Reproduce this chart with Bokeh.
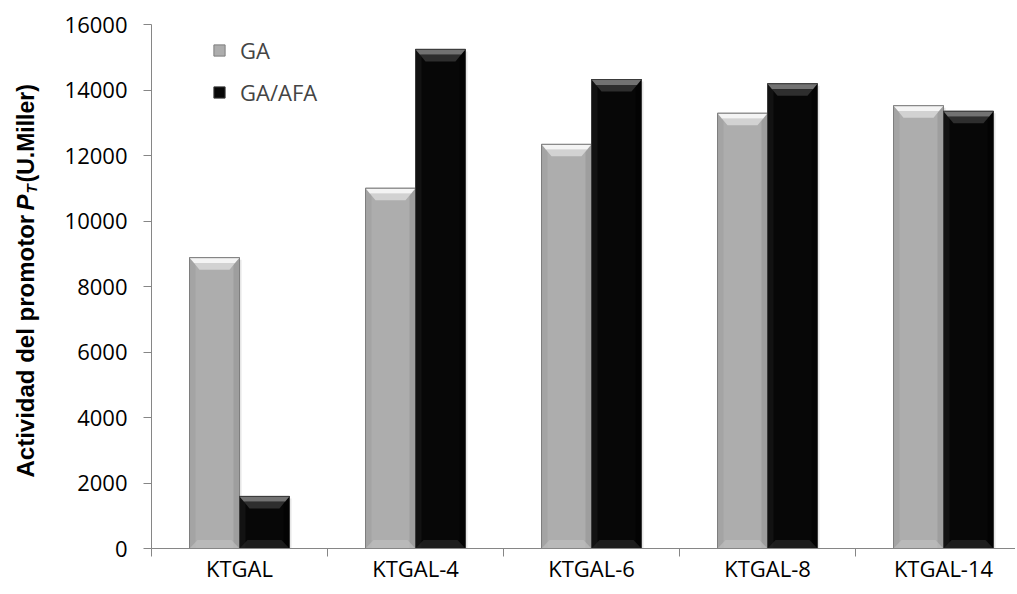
import numpy as np
from bokeh.plotting import figure
from bokeh.layouts import row
from bokeh.models import Range1d, FixedTicker, SingleIntervalTicker, Legend, LegendItem
from bokeh.core.properties import value
from bokeh.embed import file_html
from bokeh.resources import INLINE

# ---- data ----
categories = ["KTGAL", "KTGAL-4", "KTGAL-6", "KTGAL-8", "KTGAL-14"]
ga = [8880, 11000, 12340, 13290, 13520]
ga_afa = [1590, 15240, 14320, 14190, 13350]
series_names = ["GA", "GA/AFA"]
y_interval = 2000
y_max = 16000

# ---- layout constants ----
H = 592
LW = 50                      # width of the strip holding the y-axis title
W = 965
BL, BT, BB, BR = 101, 24, 44, 0
frame_w = W - BL - BR
frame_h = H - BT - BB
cat_px = 176.0
x_end = frame_w / cat_px

y_range = Range1d(0, y_max)
p = figure(width=W, height=H, output_backend="svg", toolbar_location=None, title=None,
           x_range=Range1d(0, x_end), y_range=y_range,
           min_border_left=BL, min_border_top=BT, min_border_bottom=BB, min_border_right=BR)
p.outline_line_color = None
p.xgrid.visible = False
p.ygrid.visible = False
p.background_fill_color = "white"
p.border_fill_color = "white"

ux = 1.0 / cat_px            # data units per px (x)
uy = y_max / frame_h         # data units per px (y)

bar_w = 0.284
offsets = [-0.142, 0.142]
styles = [
    dict(fill="#adadad", line="#7e7e7e", top1="#f4f4f4", top2="#d2d2d2", side_l="#9c9c9c", side_r="#8f8f8f", bot="#bdbdbd"),
    dict(fill="#070707", line="#3a3a3a", top1="#727272", top2="#2e2e2e", side_l="#1e1e1e", side_r="#000000", bot="#262626"),
]

renderers = []
for s_idx, vals in enumerate([ga, ga_afa]):
    st = styles[s_idx]
    xs = np.arange(len(categories)) + 0.5 + offsets[s_idx]
    vals = np.array(vals, dtype=float)
    # soft shadow
    p.vbar(x=xs + 2 * ux, top=vals - 2 * uy, bottom=0, width=bar_w, fill_color="#e6e6e6", line_color=None)
    r = p.vbar(x=xs, top=vals, bottom=0, width=bar_w, fill_color=st["fill"], line_color=st["line"], line_width=1)
    renderers.append(r)
    d = 10 * ux
    h = 12 * uy
    # side shading
    p.vbar(x=xs - bar_w / 2 + d * 0.3, top=vals, bottom=0, width=d * 0.6, fill_color=st["side_l"], line_color=None, fill_alpha=0.5)
    p.vbar(x=xs + bar_w / 2 - d * 0.3, top=vals, bottom=0, width=d * 0.6, fill_color=st["side_r"], line_color=None, fill_alpha=0.5)
    # top bevel (two bands) and bottom bevel
    xs_t1, ys_t1, xs_t2, ys_t2, xs_b, ys_b = [], [], [], [], [], []
    for x, v in zip(xs, vals):
        x0, x1 = x - bar_w / 2, x + bar_w / 2
        xs_t1.append([x0, x1, x1 - d * 0.45, x0 + d * 0.45])
        ys_t1.append([v, v, v - h * 0.45, v - h * 0.45])
        xs_t2.append([x0 + d * 0.45, x1 - d * 0.45, x1 - d, x0 + d])
        ys_t2.append([v - h * 0.45, v - h * 0.45, v - h, v - h])
        xs_b.append([x0 + d * 0.8, x1 - d * 0.8, x1, x0])
        ys_b.append([h * 0.7, h * 0.7, 0, 0])
    p.patches(xs_t1, ys_t1, fill_color=st["top1"], line_color=None)
    p.patches(xs_t2, ys_t2, fill_color=st["top2"], line_color=None)
    p.patches(xs_b, ys_b, fill_color=st["bot"], line_color=None, fill_alpha=0.7)
    p.vbar(x=xs, top=vals, bottom=0, width=bar_w, fill_color=None, line_color=st["line"], line_width=1)

# ---- axes ----
axis_color = "#868686"
font = "Open Sans"

p.yaxis.ticker = SingleIntervalTicker(interval=y_interval, num_minor_ticks=0)
p.yaxis.axis_line_color = axis_color
p.yaxis.major_tick_line_color = axis_color
p.yaxis.major_tick_out = 8
p.yaxis.major_tick_in = 0
p.yaxis.minor_tick_line_color = None
p.yaxis.major_label_text_font = font
p.yaxis.major_label_text_font_size = "22px"
p.yaxis.major_label_text_color = "black"
p.yaxis.major_label_standoff = 16

centers = [i + 0.5 for i in range(len(categories))]
p.xaxis.ticker = FixedTicker(ticks=centers, minor_ticks=list(range(len(categories) + 1)))
p.xaxis.major_label_overrides = {c: lab for c, lab in zip(centers, categories)}
p.xaxis.axis_line_color = axis_color
p.xaxis.major_tick_line_color = None
p.xaxis.major_tick_out = 0
p.xaxis.major_tick_in = 0
p.xaxis.minor_tick_line_color = axis_color
p.xaxis.minor_tick_out = 8
p.xaxis.minor_tick_in = 0
p.xaxis.major_label_text_font = font
p.xaxis.major_label_text_font_size = "22px"
p.xaxis.major_label_text_color = "black"
p.xaxis.major_label_standoff = -4

# ---- legend ----
legend = Legend(items=[LegendItem(label=n, renderers=[r]) for n, r in zip(series_names, renderers)],
                location=(61, frame_h - 83), orientation="vertical",
                glyph_width=14, glyph_height=14, label_height=24, spacing=12, padding=0,
                label_standoff=14, label_text_font=font, label_text_font_size="22px",
                border_line_color=None, background_fill_alpha=0)
p.add_layout(legend)

# ---- y-axis title strip (P italic with subscript T), sharing the y scale ----
t = figure(width=LW, height=H, output_backend="svg", toolbar_location=None, title=None,
           x_range=Range1d(0, LW), y_range=y_range,
           x_axis_location=None, y_axis_location=None,
           min_border_left=0, min_border_right=0, min_border_top=BT, min_border_bottom=BB)
t.grid.visible = False
t.outline_line_color = None
t.background_fill_color = "white"
t.border_fill_color = "white"

def y_of(py):
    return (BT + frame_h - py) * uy

title_text = ["Actividad del promotor", "P", "T", "(U.Miller)"]
title_px_x = [25, 25, 31, 25]
title_px_y = [477, 210, 193, 182]
title_style = ["bold", "bold italic", "bold italic", "bold"]
title_size = ["24px", "24px", "15px", "23px"]
for txt, px, py, stl, sz in zip(title_text, title_px_x, title_px_y, title_style, title_size):
    t.text(x=[px], y=[y_of(py)], text=[txt], angle=np.pi / 2, text_align="left",
           text_baseline="alphabetic", text_font=value("Liberation Sans"),
           text_font_style=stl, text_font_size=sz, text_color="black")

layout = row(t, p, spacing=0)
open("out.html", "w").write(file_html(layout, INLINE))
